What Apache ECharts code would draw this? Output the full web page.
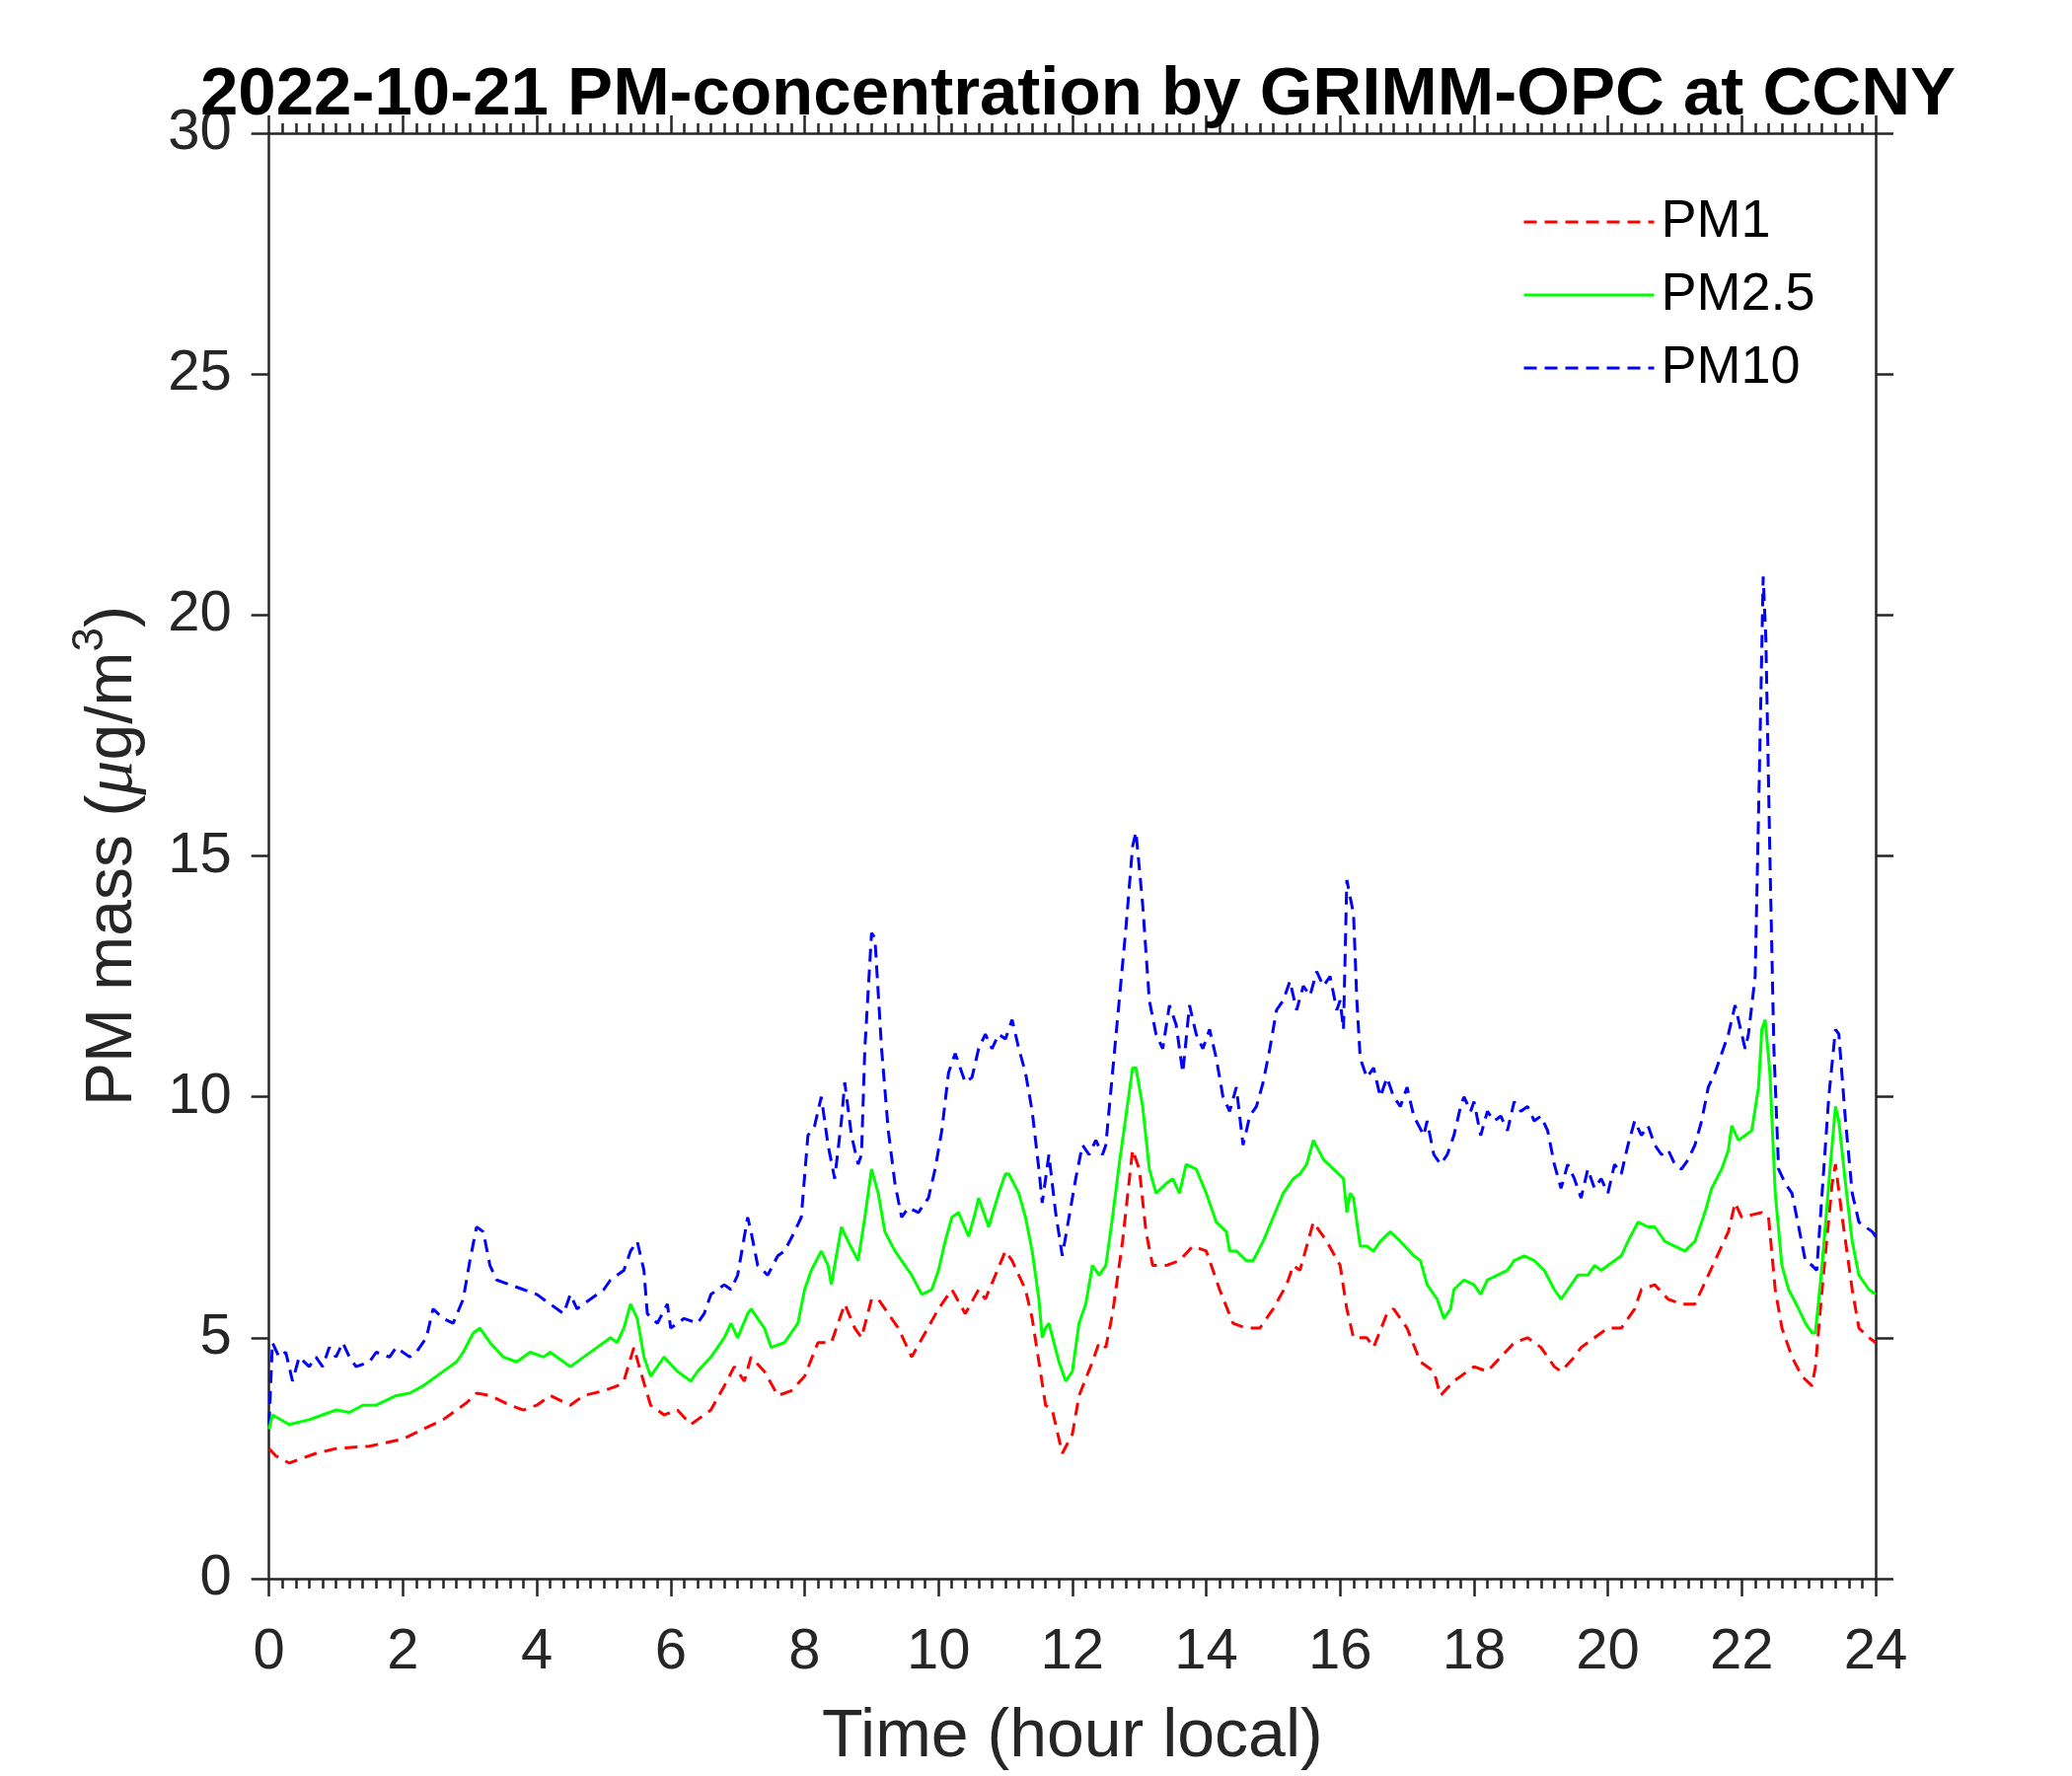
<!DOCTYPE html>
<html>
<head>
<meta charset="utf-8">
<script src="https://cdn.jsdelivr.net/npm/echarts@6/dist/echarts.min.js"></script>
<style>html,body{margin:0;padding:0;background:#fff}#c{width:2100px;height:1800px}</style>
</head>
<body>
<div id="c"></div>
<script>
// Data: [hour, µg/m3]
const pm1 = [[0,2.7],[0.1,2.55],[0.3,2.4],[0.5,2.5],[0.7,2.6],[1.0,2.7],[1.5,2.75],[2.0,2.9],[2.3,3.1],[2.6,3.3],[2.8,3.5],[2.95,3.65],[3.1,3.85],[3.3,3.8],[3.6,3.6],[3.8,3.5],[4.0,3.6],[4.2,3.8],[4.5,3.6],[4.7,3.8],[5.0,3.9],[5.2,4.0],[5.3,4.1],[5.45,4.8],[5.55,4.3],[5.7,3.6],[5.9,3.4],[6.1,3.5],[6.3,3.2],[6.6,3.5],[6.8,4.0],[6.95,4.4],[7.1,4.1],[7.2,4.6],[7.4,4.3],[7.6,3.8],[7.8,3.9],[8.0,4.2],[8.2,4.9],[8.4,4.9],[8.6,5.7],[8.75,5.2],[8.85,5.0],[9.0,5.8],[9.1,5.8],[9.3,5.4],[9.4,5.2],[9.6,4.6],[9.8,5.1],[10.0,5.6],[10.2,6.0],[10.4,5.5],[10.6,6.0],[10.7,5.8],[10.85,6.3],[11.0,6.8],[11.1,6.6],[11.3,6.0],[11.4,5.4],[11.5,4.5],[11.6,3.6],[11.7,3.5],[11.85,2.6],[12.0,3.0],[12.1,3.8],[12.3,4.5],[12.4,4.9],[12.5,4.8],[12.6,5.5],[12.75,7.0],[12.9,8.9],[13.0,8.5],[13.1,7.2],[13.2,6.5],[13.4,6.5],[13.6,6.6],[13.8,6.9],[14.0,6.8],[14.2,6.0],[14.4,5.3],[14.6,5.2],[14.8,5.2],[15.0,5.6],[15.2,6.1],[15.3,6.5],[15.4,6.4],[15.6,7.4],[15.8,7.0],[16.0,6.5],[16.1,5.6],[16.2,5.0],[16.4,5.0],[16.5,4.8],[16.7,5.5],[16.8,5.6],[17.0,5.2],[17.2,4.5],[17.4,4.3],[17.5,3.8],[17.7,4.1],[17.9,4.3],[18.0,4.4],[18.2,4.3],[18.4,4.6],[18.6,4.9],[18.8,5.0],[19.0,4.8],[19.2,4.4],[19.3,4.3],[19.5,4.6],[19.6,4.8],[19.8,5.0],[20.0,5.2],[20.2,5.2],[20.4,5.6],[20.5,6.0],[20.7,6.1],[20.9,5.8],[21.1,5.7],[21.3,5.7],[21.5,6.3],[21.7,6.9],[21.8,7.2],[21.9,7.8],[22.0,7.5],[22.3,7.6],[22.4,7.5],[22.5,6.0],[22.6,5.2],[22.75,4.6],[22.9,4.2],[23.05,4.0],[23.1,4.4],[23.2,6.0],[23.35,8.2],[23.4,8.6],[23.5,7.5],[23.65,6.0],[23.75,5.2],[23.9,5.0],[24,4.9]];

const pm25 = [[0,3.1],[0.05,3.4],[0.3,3.2],[0.6,3.3],[0.8,3.4],[1.0,3.5],[1.2,3.45],[1.4,3.6],[1.6,3.6],[1.9,3.8],[2.1,3.85],[2.3,4.0],[2.5,4.2],[2.7,4.4],[2.8,4.5],[2.9,4.7],[3.05,5.1],[3.15,5.2],[3.3,4.9],[3.5,4.6],[3.7,4.5],[3.9,4.7],[4.1,4.6],[4.2,4.7],[4.4,4.5],[4.5,4.4],[4.7,4.6],[4.9,4.8],[5.1,5.0],[5.2,4.9],[5.3,5.2],[5.4,5.7],[5.5,5.4],[5.6,4.6],[5.7,4.2],[5.85,4.5],[5.9,4.6],[6.1,4.3],[6.3,4.1],[6.4,4.3],[6.6,4.6],[6.8,5.0],[6.9,5.3],[7.0,5.0],[7.15,5.5],[7.2,5.6],[7.4,5.2],[7.5,4.8],[7.7,4.9],[7.9,5.3],[8.0,6.0],[8.1,6.4],[8.25,6.8],[8.35,6.5],[8.4,6.1],[8.5,6.9],[8.55,7.3],[8.65,7.0],[8.8,6.6],[8.9,7.5],[9.0,8.5],[9.1,8.0],[9.2,7.2],[9.35,6.8],[9.5,6.5],[9.6,6.3],[9.75,5.9],[9.9,6.0],[10.0,6.4],[10.1,7.0],[10.2,7.5],[10.3,7.6],[10.45,7.1],[10.55,7.6],[10.6,7.9],[10.7,7.5],[10.75,7.3],[10.9,8.0],[11.0,8.4],[11.05,8.4],[11.2,8.0],[11.3,7.5],[11.4,6.8],[11.5,5.8],[11.55,5.0],[11.6,5.2],[11.65,5.3],[11.8,4.5],[11.9,4.1],[12.0,4.3],[12.1,5.3],[12.2,5.7],[12.3,6.5],[12.4,6.3],[12.5,6.5],[12.6,7.5],[12.7,8.6],[12.8,9.6],[12.9,10.6],[12.95,10.6],[13.05,9.8],[13.15,8.5],[13.25,8.0],[13.4,8.2],[13.5,8.3],[13.6,8.0],[13.7,8.6],[13.85,8.5],[14.0,8.0],[14.15,7.4],[14.3,7.2],[14.35,6.8],[14.45,6.8],[14.6,6.6],[14.7,6.6],[14.85,7.0],[15.0,7.5],[15.15,8.0],[15.3,8.3],[15.4,8.4],[15.5,8.6],[15.6,9.1],[15.75,8.7],[15.9,8.5],[16.05,8.3],[16.1,7.6],[16.15,8.0],[16.2,7.9],[16.3,6.9],[16.4,6.9],[16.5,6.8],[16.6,7.0],[16.75,7.2],[16.9,7.0],[17.1,6.7],[17.2,6.6],[17.3,6.1],[17.45,5.8],[17.55,5.4],[17.65,5.6],[17.7,6.0],[17.85,6.2],[18.0,6.1],[18.1,5.9],[18.2,6.2],[18.35,6.3],[18.5,6.4],[18.6,6.6],[18.75,6.7],[18.9,6.6],[19.05,6.4],[19.2,6.0],[19.3,5.8],[19.4,6.0],[19.55,6.3],[19.7,6.3],[19.8,6.5],[19.9,6.4],[20.0,6.5],[20.2,6.7],[20.3,7.0],[20.45,7.4],[20.6,7.3],[20.7,7.3],[20.85,7.0],[21.0,6.9],[21.15,6.8],[21.3,7.0],[21.45,7.6],[21.55,8.1],[21.7,8.5],[21.8,8.9],[21.85,9.4],[21.95,9.1],[22.05,9.2],[22.15,9.3],[22.25,10.2],[22.3,11.4],[22.35,11.6],[22.42,10.5],[22.5,8.0],[22.6,6.5],[22.7,6.0],[22.85,5.6],[22.95,5.3],[23.05,5.1],[23.1,5.1],[23.2,6.5],[23.3,8.2],[23.4,9.8],[23.45,9.5],[23.55,8.2],[23.65,7.0],[23.75,6.3],[23.9,6.0],[24,5.9]];

const pm10 = [[0,3.2],[0.05,4.9],[0.15,4.6],[0.25,4.7],[0.35,4.1],[0.45,4.6],[0.6,4.4],[0.7,4.6],[0.8,4.4],[0.9,4.8],[1.0,4.6],[1.1,4.9],[1.2,4.6],[1.3,4.4],[1.5,4.5],[1.6,4.7],[1.8,4.6],[1.9,4.8],[2.1,4.6],[2.2,4.7],[2.35,5.0],[2.45,5.6],[2.6,5.4],[2.75,5.3],[2.9,5.8],[3.0,6.6],[3.1,7.3],[3.2,7.2],[3.3,6.5],[3.4,6.2],[3.6,6.1],[3.8,6.0],[4.0,5.9],[4.2,5.7],[4.4,5.5],[4.5,5.9],[4.6,5.6],[4.8,5.8],[5.0,6.0],[5.1,6.2],[5.3,6.4],[5.4,6.8],[5.5,7.0],[5.6,6.4],[5.65,5.5],[5.8,5.3],[5.95,5.7],[6.0,5.2],[6.2,5.4],[6.4,5.3],[6.5,5.5],[6.6,5.9],[6.8,6.1],[6.9,6.0],[7.0,6.3],[7.15,7.5],[7.2,7.2],[7.3,6.5],[7.45,6.3],[7.6,6.7],[7.7,6.8],[7.85,7.2],[7.95,7.5],[8.05,9.2],[8.15,9.4],[8.25,10.0],[8.35,9.0],[8.45,8.3],[8.55,9.5],[8.6,10.3],[8.7,9.2],[8.8,8.6],[8.85,8.8],[8.9,11.0],[9.0,13.4],[9.05,13.3],[9.15,11.0],[9.25,9.3],[9.35,8.2],[9.45,7.5],[9.55,7.7],[9.7,7.6],[9.85,7.9],[9.95,8.5],[10.05,9.3],[10.15,10.5],[10.25,10.9],[10.4,10.3],[10.5,10.4],[10.6,11.0],[10.7,11.3],[10.8,11.0],[10.9,11.3],[11.0,11.2],[11.1,11.6],[11.2,11.0],[11.3,10.5],[11.4,9.7],[11.5,8.5],[11.55,7.8],[11.6,8.3],[11.65,8.8],[11.75,7.6],[11.85,6.7],[11.95,7.5],[12.05,8.3],[12.15,9.0],[12.25,8.8],[12.35,9.1],[12.45,8.8],[12.5,9.0],[12.6,10.5],[12.7,12.0],[12.8,13.5],[12.9,15.2],[12.95,15.5],[13.05,14.0],[13.15,12.0],[13.25,11.3],[13.35,11.0],[13.45,11.9],[13.55,11.5],[13.65,10.5],[13.7,11.2],[13.75,11.9],[13.85,11.3],[13.95,11.0],[14.05,11.4],[14.15,10.8],[14.25,10.0],[14.35,9.7],[14.45,10.2],[14.55,9.0],[14.65,9.6],[14.75,9.8],[14.85,10.3],[14.95,11.0],[15.05,11.8],[15.15,12.0],[15.25,12.4],[15.35,11.8],[15.45,12.3],[15.55,12.1],[15.65,12.6],[15.75,12.3],[15.85,12.5],[15.95,11.8],[16.0,12.0],[16.05,11.4],[16.1,14.5],[16.2,13.8],[16.25,12.0],[16.3,10.8],[16.4,10.4],[16.5,10.6],[16.6,10.0],[16.7,10.4],[16.8,10.0],[16.9,9.8],[17.0,10.2],[17.1,9.6],[17.25,9.2],[17.3,9.5],[17.4,8.8],[17.5,8.6],[17.6,8.8],[17.7,9.2],[17.8,9.8],[17.85,10.0],[17.95,9.7],[18.0,9.9],[18.1,9.2],[18.2,9.7],[18.3,9.5],[18.4,9.6],[18.5,9.3],[18.6,9.9],[18.7,9.7],[18.8,9.8],[18.9,9.5],[19.0,9.6],[19.1,9.3],[19.2,8.6],[19.3,8.1],[19.4,8.6],[19.5,8.3],[19.6,7.9],[19.7,8.5],[19.8,8.1],[19.9,8.3],[20.0,8.0],[20.1,8.6],[20.2,8.4],[20.3,9.0],[20.4,9.5],[20.5,9.2],[20.6,9.4],[20.7,9.0],[20.8,8.8],[20.9,8.9],[21.0,8.6],[21.1,8.5],[21.2,8.7],[21.3,9.0],[21.4,9.5],[21.5,10.2],[21.6,10.5],[21.7,10.9],[21.8,11.3],[21.9,11.9],[22.0,11.3],[22.05,11.0],[22.1,11.3],[22.2,12.5],[22.26,16.5],[22.32,20.8],[22.36,19.5],[22.42,15.0],[22.48,11.0],[22.55,8.5],[22.65,8.2],[22.75,8.0],[22.85,7.3],[22.95,6.6],[23.05,6.5],[23.12,6.4],[23.2,8.0],[23.3,10.0],[23.4,11.4],[23.45,11.3],[23.55,9.5],[23.65,8.0],[23.75,7.4],[23.85,7.3],[23.95,7.2],[24,7.1]];

const seriesNames = ['PM1', 'PM2.5', 'PM10'];
const titleText = '2022-10-21 PM-concentration by GRIMM-OPC at CCNY';
const xName = 'Time (hour local)';

const FONT = 'Liberation Sans';
const AX = '#262626';
const chart = echarts.init(document.getElementById('c'), null, {renderer: 'canvas'});

const axisLine = {show: true, onZero: false, lineStyle: {color: AX, width: 2.5}};
const baseX = {
  type: 'value', min: 0, max: 24, interval: 2,
  axisLine: axisLine,
  axisTick: {show: true, inside: false, length: 18, lineStyle: {color: AX, width: 2.5}},
  minorTick: {show: true, splitNumber: 10, length: 10, lineStyle: {color: AX, width: 2.5}},
  splitLine: {show: false}, minorSplitLine: {show: false}
};
const baseY = {
  type: 'value', min: 0, max: 30, interval: 5,
  axisLine: axisLine,
  axisTick: {show: true, inside: false, length: 18, lineStyle: {color: AX, width: 2.5}},
  splitLine: {show: false}
};

const option = {
  backgroundColor: '#ffffff',
  animation: false,
  title: {
    text: titleText, left: 203, top: 62, padding: 0,
    textStyle: {fontFamily: FONT, fontSize: 69, fontWeight: 'bold', color: '#000'}
  },
  legend: {
    orient: 'vertical', left: 1538, top: 190,
    itemWidth: 132, itemHeight: 20, itemGap: 14,
    itemStyle: {opacity: 0},
    lineStyle: {width: 3},
    textStyle: {fontFamily: FONT, fontSize: 54, color: '#000', padding: [0, 0, 0, 2], lineHeight: 60},
    data: seriesNames
  },
  grid: {left: 272.7, right: 199, top: 135, bottom: 198, containLabel: false},
  xAxis: [
    Object.assign({}, baseX, {
      position: 'bottom',
      axisLabel: {fontFamily: FONT, fontSize: 58, color: AX, margin: 46},
      name: xName, nameLocation: 'middle', nameGap: 127,
      nameTextStyle: {fontFamily: FONT, fontSize: 68, color: AX}
    }),
    Object.assign({}, baseX, {position: 'top', axisLabel: {show: false}})
  ],
  yAxis: [
    Object.assign({}, baseY, {
      position: 'left',
      axisLabel: {fontFamily: FONT, fontSize: 58, color: AX, margin: 38},
      name: '{a|PM mass (}{mu|μ}{a|g/m}{sup|3}{a|)}', nameLocation: 'middle', nameGap: 113,
      nameTextStyle: {
        fontFamily: FONT, fontSize: 66, color: AX,
        rich: {
          a: {fontFamily: FONT, fontSize: 66, color: AX, lineHeight: 90},
          mu: {fontFamily: 'Liberation Serif', fontStyle: 'italic', fontSize: 70, color: AX, lineHeight: 90},
          sup: {fontFamily: FONT, fontSize: 44, color: AX, lineHeight: 44, verticalAlign: 'top'}
        }
      }
    }),
    Object.assign({}, baseY, {position: 'right', axisLabel: {show: false}})
  ],
  series: [
    {name: seriesNames[0], type: 'line', data: pm1, showSymbol: false, symbol: 'none',
     lineStyle: {color: '#ff0000', width: 3, type: [13, 8]}, itemStyle: {color: '#ff0000'}, z: 3},
    {name: seriesNames[1], type: 'line', data: pm25, showSymbol: false, symbol: 'none',
     lineStyle: {color: '#00ff00', width: 3, type: 'solid'}, itemStyle: {color: '#00ff00'}, z: 4},
    {name: seriesNames[2], type: 'line', data: pm10, showSymbol: false, symbol: 'none',
     lineStyle: {color: '#0000ff', width: 3, type: [13, 8]}, itemStyle: {color: '#0000ff'}, z: 2}
  ]
};
chart.setOption(option);
</script>
</body>
</html>
